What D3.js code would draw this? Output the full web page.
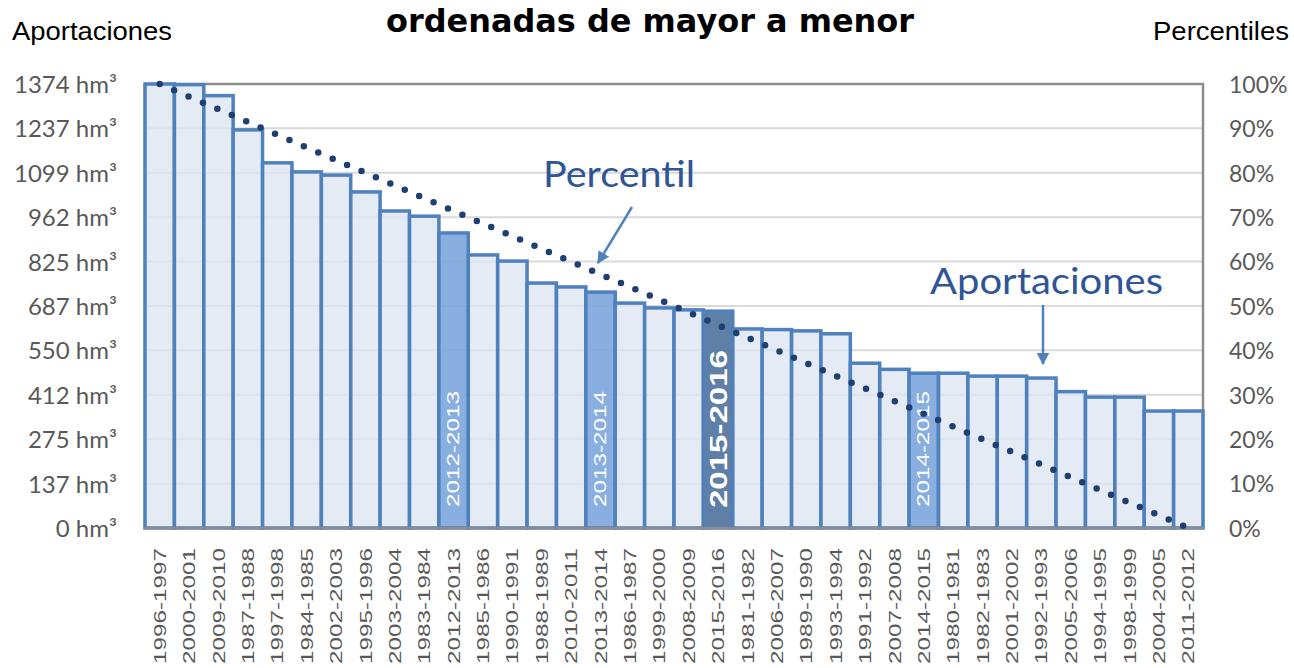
<!DOCTYPE html>
<html>
<head>
<meta charset="utf-8">
<script src="https://cdn.jsdelivr.net/npm/d3@7"></script>
<style>
  html, body { margin: 0; padding: 0; background: #fff; }
  svg { display: block; }
</style>
</head>
<body>
<svg id="chart" width="1294" height="668"></svg>
<script>
// ---- data ----
const categories = ["1996-1997","2000-2001","2009-2010","1987-1988","1997-1998","1984-1985","2002-2003","1995-1996","2003-2004","1983-1984","2012-2013","1985-1986","1990-1991","1988-1989","2010-2011","2013-2014","1986-1987","1999-2000","2008-2009","2015-2016","1981-1982","2006-2007","1989-1990","1993-1994","1991-1992","2007-2008","2014-2015","1980-1981","1982-1983","2001-2002","1992-1993","2005-2006","1994-1995","1998-1999","2004-2005","2011-2012"];
const aportaciones = [1374,1372,1338,1232,1130,1102,1092,1040,981,965,913,845,826,758,746,730,696,681,675,671,616,614,610,601,510,491,479,479,470,470,464,422,405,405,362,362];
const percentil = [100,97.14,94.29,91.43,88.57,85.71,82.86,80,77.14,74.29,71.43,68.57,65.71,62.86,60,57.14,54.29,51.43,48.57,45.71,42.86,40,37.14,34.29,31.43,28.57,25.71,22.86,20,17.14,14.29,11.43,8.57,5.71,2.86,0];
const yTicks = [0,137,275,412,550,687,825,962,1099,1237,1374];
const pctTicks = [0,10,20,30,40,50,60,70,80,90,100];
const highlighted = ["2012-2013","2013-2014","2014-2015"];
const current = "2015-2016";

// ---- layout ----
const svg = d3.select("#chart");
const L = 145, R = 1203, T = 84, B = 528;
const x = d3.scaleBand().domain(categories).range([L, R]).padding(0);
const y = d3.scaleLinear().domain([0, 1374]).range([B, T]);
const yp = d3.scaleLinear().domain([0, 100]).range([B, T]);

const gray = "#595959";
const barStroke = "#4f81bd";

// gridlines
svg.append("g").selectAll("line").data(yTicks.slice(1, -1)).join("line")
  .attr("x1", L).attr("x2", R)
  .attr("y1", d => y(d)).attr("y2", d => y(d))
  .attr("stroke", "#d9d9d9").attr("stroke-width", 2);

// plot border (top/left/right)
svg.append("path")
  .attr("d", `M${L},${B}V${T}H${R}V${B}`)
  .attr("fill", "none").attr("stroke", "#8c8c8c").attr("stroke-width", 2.5);

// bars
svg.append("g").selectAll("rect").data(categories).join("rect")
  .attr("x", d => x(d))
  .attr("y", (d, i) => y(aportaciones[i]))
  .attr("width", x.bandwidth())
  .attr("height", (d, i) => B - y(aportaciones[i]))
  .attr("fill", d => d === current ? "#5b7ba4" : highlighted.includes(d) ? "#7fa8de" : "#dce6f2")
  .attr("fill-opacity", d => d === current ? 0.97 : highlighted.includes(d) ? 0.92 : 0.78)
  .attr("stroke", barStroke).attr("stroke-width", 3.5);

// bottom axis line
svg.append("line").attr("x1", L - 1).attr("x2", R + 1).attr("y1", B).attr("y2", B)
  .attr("stroke", "#8c8c8c").attr("stroke-width", 2.5);

// labels inside highlighted bars
const inner = categories.filter(d => highlighted.includes(d) || d === current);
svg.append("g").selectAll("text").data(inner).join("text")
  .attr("transform", d => `translate(${x(d) + x.bandwidth() / 2},${d === current ? 508 : 507}) rotate(-90)`)
  .attr("dominant-baseline", "central")
  .attr("font-family", "Liberation Sans, Arial, sans-serif")
  .attr("font-size", d => d === current ? 24 : 17)
  .attr("font-weight", d => d === current ? "bold" : "normal")
  .attr("textLength", d => d === current ? 158 : 116)
  .attr("lengthAdjust", "spacingAndGlyphs")
  .attr("fill", "#ffffff")
  .text(d => d);

// percentile dotted line
const line = d3.line().x((d, i) => x(categories[i]) + x.bandwidth() / 2).y(d => yp(d));
svg.append("path").datum(percentil)
  .attr("d", line)
  .attr("fill", "none")
  .attr("stroke", "#1f3f73")
  .attr("stroke-width", 6.5)
  .attr("stroke-linecap", "round")
  .attr("stroke-dasharray", "0 15.7");

// left axis
const leftAxis = d3.axisLeft(y).tickValues(yTicks).tickSize(0).tickPadding(0)
  .tickFormat(d => d + " hm³");
const gl = svg.append("g").attr("transform", `translate(117,0)`).call(leftAxis);
gl.select(".domain").remove();
gl.selectAll("text").attr("font-family", "Lato, Carlito, sans-serif").attr("font-size", 24)
  .attr("fill", gray).attr("dy", "0.36em");

// right axis
const rightAxis = d3.axisRight(yp).tickValues(pctTicks).tickSize(0).tickPadding(0)
  .tickFormat(d => d + "%");
const gr = svg.append("g").attr("transform", `translate(1229,0)`).call(rightAxis);
gr.select(".domain").remove();
gr.selectAll("text").attr("font-family", "Lato, Carlito, sans-serif").attr("font-size", 23)
  .attr("fill", gray).attr("dy", "0.36em");

// bottom axis labels
const bottomAxis = d3.axisBottom(x).tickSize(0).tickPadding(0);
const gb = svg.append("g").attr("transform", `translate(0,${B})`).call(bottomAxis);
gb.select(".domain").remove();
gb.selectAll("text")
  .attr("transform", "rotate(-90)")
  .attr("text-anchor", "end")
  .attr("x", -20).attr("y", 0).attr("dy", "0.36em")
  .attr("font-family", "Liberation Sans, Arial, sans-serif")
  .attr("font-size", 17)
  .attr("textLength", 116)
  .attr("lengthAdjust", "spacingAndGlyphs")
  .attr("fill", gray);

// titles
svg.append("text").attr("x", 650).attr("y", 32).attr("text-anchor", "middle")
  .attr("font-family", "DejaVu Sans, Verdana, sans-serif").attr("font-weight", "bold")
  .attr("font-size", 32).attr("textLength", 528).attr("lengthAdjust", "spacingAndGlyphs")
  .attr("fill", "#000").text("ordenadas de mayor a menor");
svg.append("text").attr("x", 12).attr("y", 40)
  .attr("font-family", "Liberation Sans Narrow, Liberation Sans, Arial, sans-serif")
  .attr("font-size", 26).attr("textLength", 160).attr("lengthAdjust", "spacingAndGlyphs")
  .attr("fill", "#000").text("Aportaciones");
svg.append("text").attr("x", 1153).attr("y", 40)
  .attr("font-family", "Liberation Sans Narrow, Liberation Sans, Arial, sans-serif")
  .attr("font-size", 26).attr("textLength", 136).attr("lengthAdjust", "spacingAndGlyphs")
  .attr("fill", "#000").text("Percentiles");

// annotations
const annColor = "#2f5597";
svg.append("defs").append("marker").attr("id", "arrow")
  .attr("viewBox", "0 0 10 10").attr("refX", 9).attr("refY", 5)
  .attr("markerWidth", 5).attr("markerHeight", 5).attr("orient", "auto")
  .append("path").attr("d", "M0,0L10,5L0,10Z").attr("fill", barStroke);

svg.append("text").attr("x", 543).attr("y", 187)
  .attr("font-family", "Lato, Carlito, sans-serif").attr("font-size", 36)
  .attr("textLength", 152).attr("lengthAdjust", "spacingAndGlyphs")
  .attr("fill", annColor).text("Percentil");
svg.append("line").attr("x1", 632).attr("y1", 207).attr("x2", 598).attr("y2", 263)
  .attr("stroke", barStroke).attr("stroke-width", 2.5).attr("marker-end", "url(#arrow)");

svg.append("text").attr("x", 930).attr("y", 294)
  .attr("font-family", "Lato, Carlito, sans-serif").attr("font-size", 36)
  .attr("textLength", 233).attr("lengthAdjust", "spacingAndGlyphs")
  .attr("fill", annColor).text("Aportaciones");
svg.append("line").attr("x1", 1043).attr("y1", 305).attr("x2", 1043).attr("y2", 364)
  .attr("stroke", barStroke).attr("stroke-width", 2.5).attr("marker-end", "url(#arrow)");
</script>
</body>
</html>
